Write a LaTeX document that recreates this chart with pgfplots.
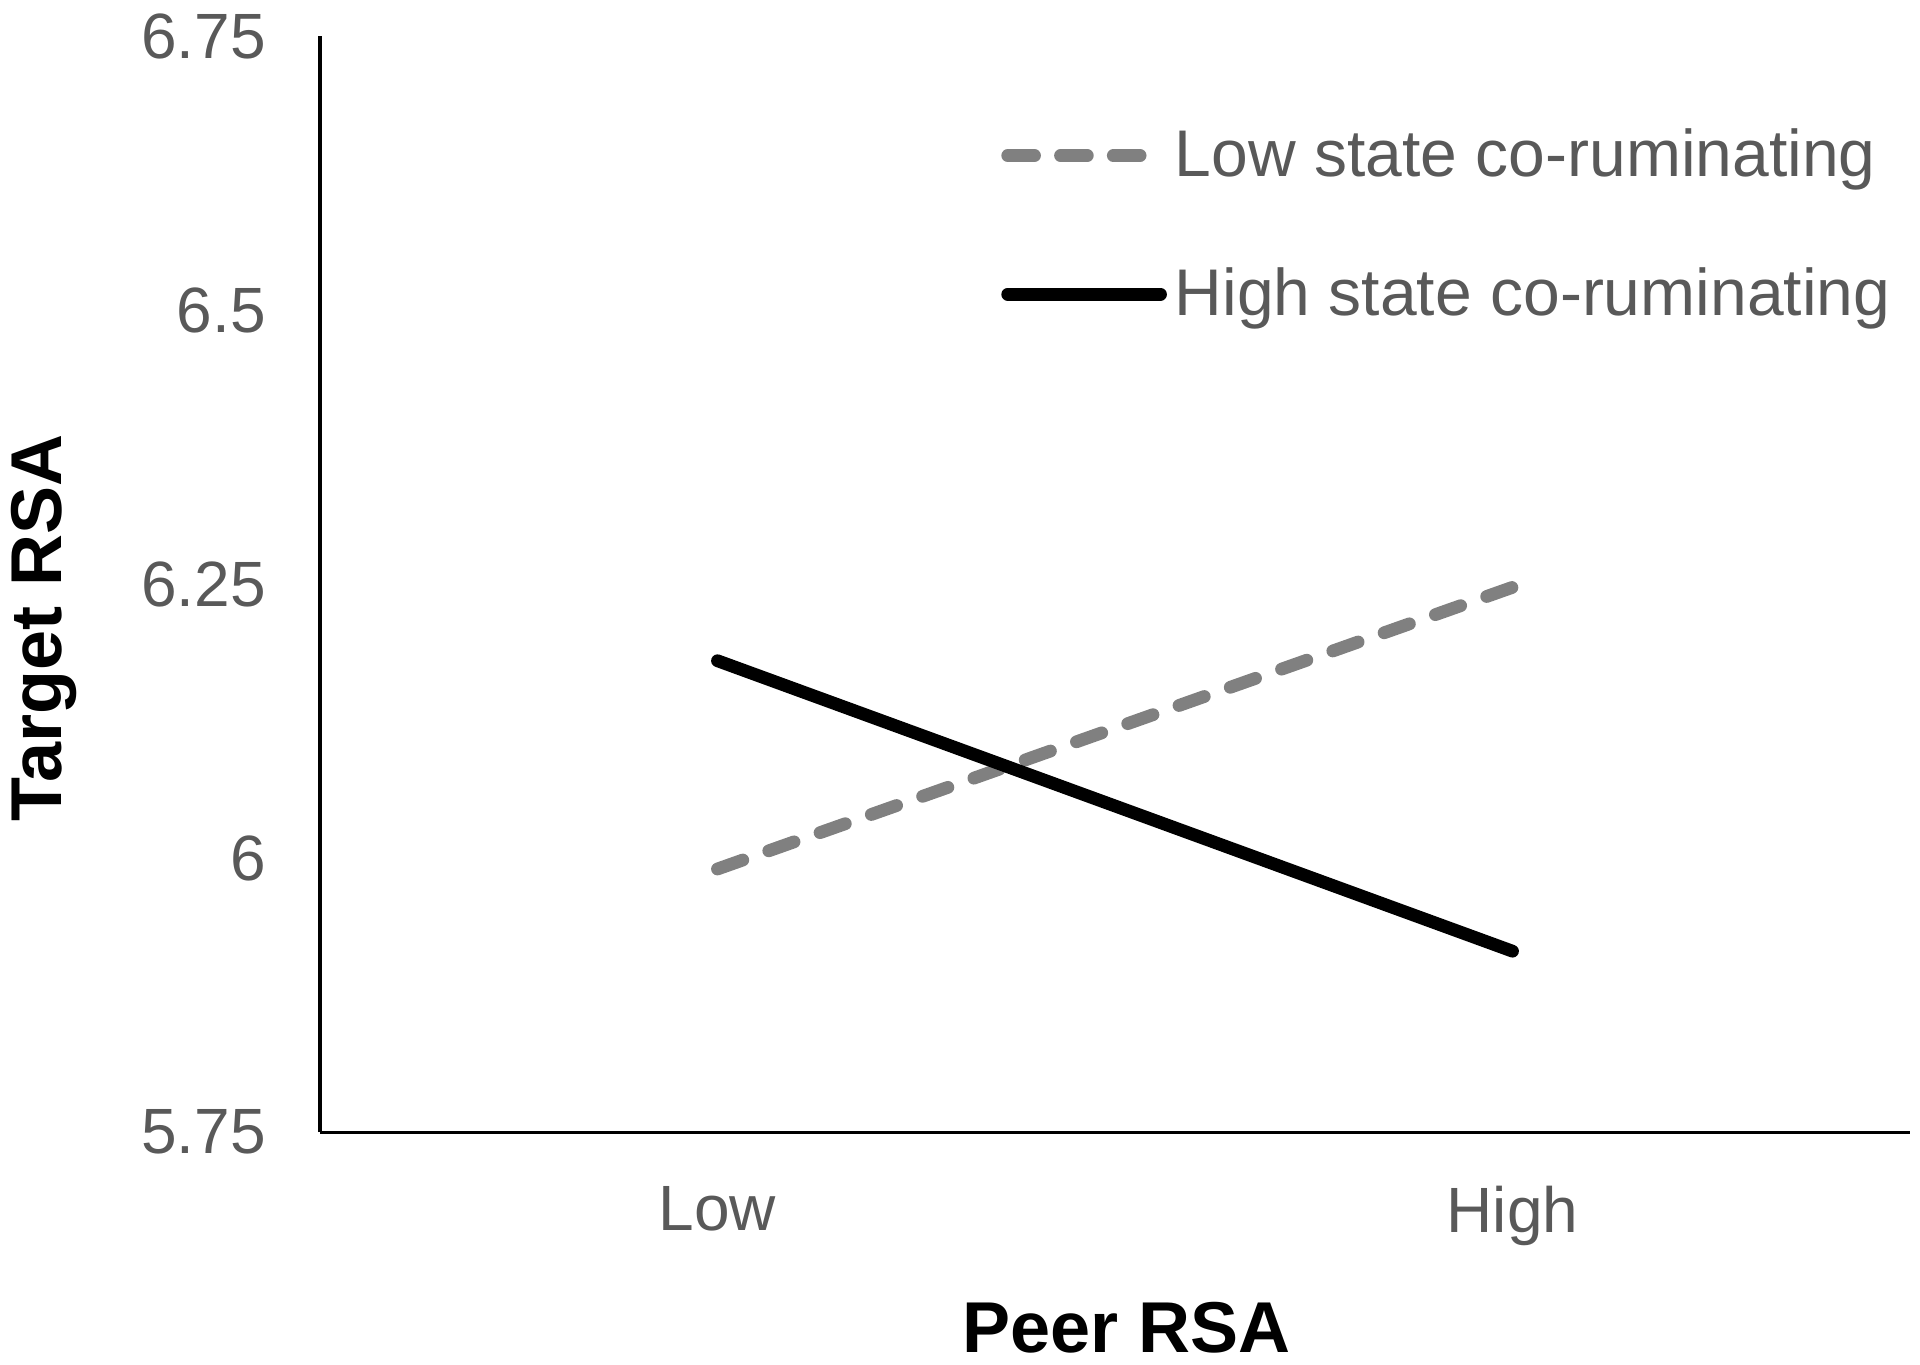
\documentclass[border=0pt]{standalone}
\usepackage{fontspec}
\setmainfont{Liberation Sans}
\usepackage{pgfplots}
\pgfplotsset{compat=1.18}
\definecolor{ticktext}{RGB}{89,89,89}
\definecolor{lowgray}{RGB}{128,128,128}

\begin{document}
\begin{tikzpicture}
\begin{axis}[
  scale only axis,
  width=397.5pt, height=274pt,
  xmin=-0.5, xmax=1.5,
  ymin=5.75, ymax=6.75,
  xtick={0,1}, xticklabels={Low,High},
  ytick={5.75,6,6.25,6.5,6.75}, yticklabels={5.75,6,6.25,6.5,6.75},
  axis x line=bottom, axis y line=left,
  axis line style={-, line width=0.75pt, black},
  major tick length=0pt,
  tick label style={font=\fontsize{16}{19}\selectfont, text=ticktext},
  xticklabel shift=10pt, yticklabel shift=10pt,
  xlabel={Peer RSA}, ylabel={Target RSA},
  label style={font=\fontsize{18}{21}\selectfont\bfseries, text=black},
  xlabel style={at={(axis description cs:0.507,0)}, anchor=center, yshift=-49pt},
  ylabel style={at={([xshift=-69pt]axis description cs:0,0.46)}, anchor=center},
  legend style={at={(axis description cs:0.428,0.9235)}, anchor=north west,
    draw=none, fill=none, inner sep=0pt, row sep=17.2pt,
    font=\fontsize{16.5}{19}\selectfont, text=ticktext,
    nodes={inner sep=2pt}},
  legend cell align=left,
  legend image code/.code={\draw[#1] (1.6pt,0pt) -- (39.8pt,0pt);},
  clip=false,
]
% Low state co-ruminating
\addplot[lowgray, line width=3.2pt, line cap=round, dash pattern=on 6.7pt off 6.9pt, forget plot]
  coordinates {(0,5.990) (1,6.247)};
% High state co-ruminating
\addplot[black, line width=3.2pt, line cap=round, forget plot]
  coordinates {(0,6.180) (1,5.915)};

\addlegendimage{lowgray, line width=3.2pt, line cap=round, dash pattern=on 6.7pt off 6.5pt}
\addlegendentry{Low state co-ruminating}
\addlegendimage{black, line width=3.2pt, line cap=round}
\addlegendentry{High state co-ruminating}
\end{axis}
\pgfresetboundingbox
\path ([xshift=-80pt,yshift=-58pt]current axis.south west)
  rectangle ([xshift=2.5pt,yshift=9pt]current axis.north east);
\end{tikzpicture}
\end{document}
